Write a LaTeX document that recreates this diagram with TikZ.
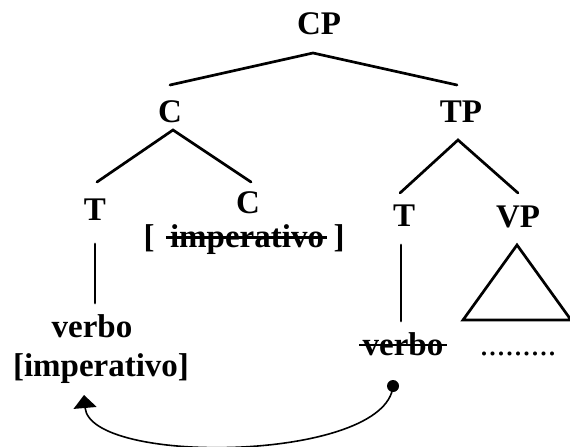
\documentclass[tikz,border=0pt]{standalone}
\usepackage{fontspec}
\setmainfont{Liberation Serif}
\usetikzlibrary{arrows.meta,calc}
\begin{document}
\begin{tikzpicture}[x=1bp,y=-1bp,
  lab/.style={font=\fontsize{33bp}{38bp}\selectfont\bfseries, inner sep=0pt, anchor=base},
  branch/.style={line width=2.7bp, line cap=round, line join=miter},
  strike/.style={line width=2.4bp},
  move/.style={line width=1.6bp}]
\useasboundingbox (0,0) rectangle (570,447);

% labels of the tree
\node[lab] (cp)   at (319,35)  {CP};
\node[lab] (c)    at (170,123) {C};
\node[lab] (tp)   at (461,123) {TP};
\node[lab] (tl)   at (95,221)  {T};
\node[lab] (cr)   at (248,214) {C};
\node[lab] (tr)   at (404,227) {T};
\node[lab] (vp)   at (518,228) {VP};
\node[lab] (lb)   at (149,248) {[};
\node[lab] (impc) at (247,248) {imperativo};
\node[lab] (rb)   at (339,248) {]};
\node[lab] (vl)   at (92,337)  {verbo};
\node[lab] (impl) at (101,376) {[imperativo]};
\node[lab] (vr)   at (403,355) {verbo};
\node[lab, font=\fontsize{34bp}{38bp}\selectfont] (dots) at (518,355) {.........};

% branch points
\coordinate (cpA) at (313,53);  \coordinate (cpL) at (170,85);  \coordinate (cpR) at (457,85);
\coordinate (cA)  at (173,130); \coordinate (cL)  at (97,182);  \coordinate (cR)  at (251,182);
\coordinate (tpA) at (458,140); \coordinate (tpL) at (400,193); \coordinate (tpR) at (518,193);
\coordinate (tlT) at (95,244);  \coordinate (tlB) at (95,303);
\coordinate (trT) at (401,245); \coordinate (trB) at (401,321);
\coordinate (vpA) at (517,245); \coordinate (vpL) at (463,320); \coordinate (vpR) at (571,320);

\draw[branch] (cpL) -- (cpA) -- (cpR);
\draw[branch] (cL) -- (cA) -- (cR);
\draw[branch] (tpL) -- (tpA) -- (tpR);
\draw[branch] (tlT) -- (tlB);
\draw[branch] (trT) -- (trB);
\draw[branch] (vpA) -- (vpL) -- (vpR) -- cycle;

% struck-out copies
\draw[strike] ($(impc.base west)+(-4,-10.5)$) -- ($(impc.base east)+(3,-10.5)$);
\draw[strike] ($(vr.base west)+(-3,-10)$) -- ($(vr.base east)+(3,-10)$);

% head movement of the verb
\node[circle, fill, inner sep=0pt, minimum size=12bp] (src) at (393,386) {};
\coordinate (dst) at (84,395);
\draw[move, -{Triangle[length=13bp,width=23bp]}] (src.center) .. controls (386,462) and (90,466) .. (dst);
\end{tikzpicture}
\end{document}
